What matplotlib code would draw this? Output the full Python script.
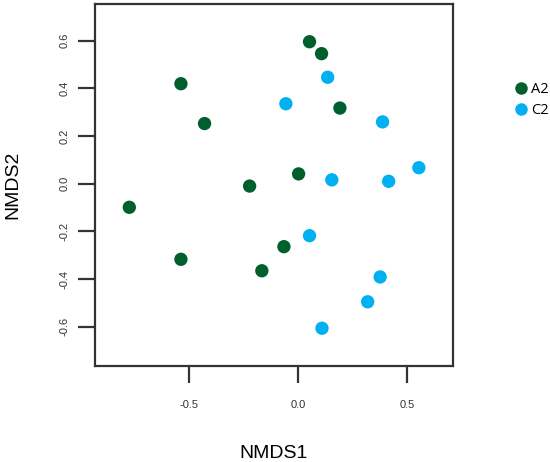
import matplotlib
matplotlib.use("Agg")
import matplotlib.pyplot as plt
from matplotlib.lines import Line2D

groups = ["A2", "C2"]
colors = ["#00602D", "#00B0F0"]

a2_x = [-0.771, -0.535, -0.427, -0.221, 0.003, 0.053, 0.108, 0.192, -0.535, -0.165, -0.064]
a2_y = [-0.099, 0.419, 0.252, -0.010, 0.041, 0.595, 0.545, 0.317, -0.317, -0.365, -0.264]

c2_x = [-0.055, 0.136, 0.387, 0.155, 0.415, 0.553, 0.053, 0.376, 0.319, 0.110]
c2_y = [0.335, 0.446, 0.259, 0.016, 0.010, 0.067, -0.218, -0.391, -0.495, -0.606]

xticks = [-0.5, 0.0, 0.5]
yticks = [-0.6, -0.4, -0.2, 0.0, 0.2, 0.4, 0.6]

plt.rcParams['font.family'] = ['Liberation Sans', 'DejaVu Sans']

fig = plt.figure(figsize=(5.5, 4.62), dpi=100)
ax = fig.add_axes([0.1727, 0.2084, 0.6509, 0.7829])

ax.scatter(a2_x, a2_y, s=92, color=colors[0], edgecolors='none', zorder=3)
ax.scatter(c2_x, c2_y, s=92, color=colors[1], edgecolors='none', zorder=3)

ax.set_xlim(-0.928, 0.709)
ax.set_ylim(-0.763, 0.753)

ax.set_xticks(xticks)
ax.set_xticklabels([f"{v:.1f}" for v in xticks])
ax.set_yticks(yticks)
ax.set_yticklabels([f"{v:.1f}" for v in yticks], rotation=90, va='center')

for s in ax.spines.values():
    s.set_linewidth(1.6)
    s.set_color('#333333')

ax.tick_params(axis='both', length=12, width=1.6, color='#333333',
               labelsize=8, labelcolor='#333333')
ax.tick_params(axis='x', pad=13)
ax.tick_params(axis='y', pad=6)

ax.set_xlabel("NMDS1", fontsize=14, labelpad=25)
ax.set_ylabel("NMDS2", fontsize=14, labelpad=28)

handles = [Line2D([0], [0], marker='o', linestyle='none', markersize=9,
                  markerfacecolor=c, markeredgecolor='none') for c in colors]
leg = fig.legend(handles, groups, loc='center left', bbox_to_anchor=(0.937, 0.783),
                 frameon=False, handletextpad=0.25, labelspacing=0.42,
                 borderaxespad=0, borderpad=0, handlelength=0.8,
                 prop={'family': 'Open Sans', 'size': 10.5})

fig.savefig("out.png", dpi=100)
